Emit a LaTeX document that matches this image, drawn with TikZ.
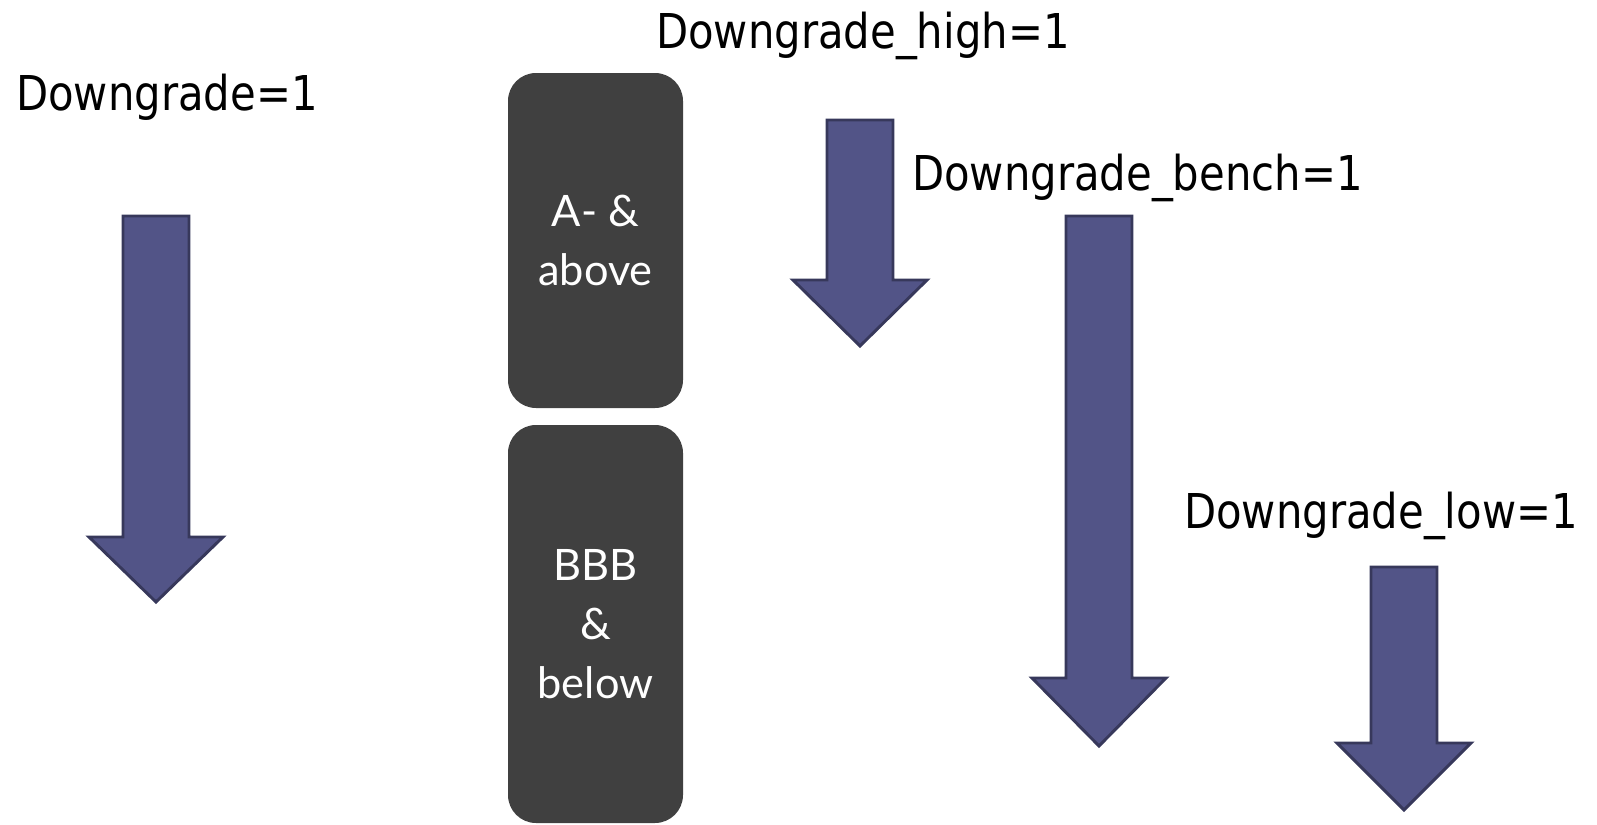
\documentclass[tikz,border=0pt]{standalone}
\usepackage{fontspec}
\newfontfamily\labelfont[FakeStretch=0.87]{DejaVu Sans}
\newfontfamily\boxfont{Lato}
\definecolor{arrowfill}{HTML}{525487}
\definecolor{arrowedge}{HTML}{37385B}
\definecolor{boxfill}{HTML}{404040}
\tikzset{
  flag/.style={anchor=base west, inner sep=0pt, font=\labelfont\fontsize{36pt}{40pt}\selectfont, text=black},
  band/.style={rounded corners=21pt, fill=boxfill, minimum width=131.25pt, align=center, text=white,
    font=\boxfont\fontsize{32.5pt}{44pt}\selectfont},
  blockarrow/.style={fill=arrowfill, draw=arrowedge, line width=2.2pt, line join=miter}
}
% block arrow pointing down: centre x, shaft top, head base, tip
\newcommand\downblock[5]{%
  \draw[blockarrow] (#1-33,#2) -- (#1+33,#2) -- (#1+33,#3) -- (#1+67,#3) -- (#1,#4)
    -- (#1-67,#3) -- (#1-33,#3) -- cycle;
  \coordinate (#5) at (#1,#4);}
\begin{document}
\begin{tikzpicture}[x=0.75pt,y=-0.75pt]
\useasboundingbox (0,0) rectangle (1597,825);

% rating bands
\node[band, minimum height=251.25pt] (upper) at (595.5,240.5) {A- \&\\above};
\node[band, minimum height=298.5pt] (lower) at (595.5,624) {BBB\\\&\\below};

% labels
\node[flag] (lblall) at (16,110) {Downgrade=1};
\node[flag] (lblhigh) at (656,48) {Downgrade\_high=1};
\node[flag] (lblbench) at (912,190) {Downgrade\_bench=1};
\node[flag] (lbllow) at (1184,528) {Downgrade\_low=1};

% arrows
\downblock{156}{216}{537}{602}{tipall}
\downblock{860}{120}{280}{346}{tiphigh}
\downblock{1099}{216}{678}{746}{tipbench}
\downblock{1404}{567}{743}{810}{tiplow}
\end{tikzpicture}
\end{document}
